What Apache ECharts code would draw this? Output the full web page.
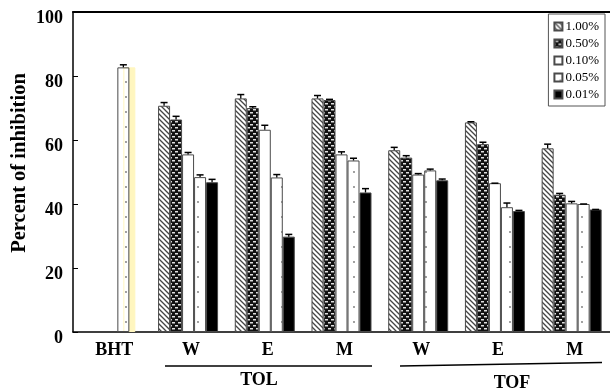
<!DOCTYPE html>
<html><head><meta charset="utf-8">
<script src="https://cdn.jsdelivr.net/npm/echarts@6/dist/echarts.min.js"></script>
<style>html,body{margin:0;padding:0;background:#fff}#c{width:610px;height:391px}</style>
</head><body><div id="c"></div>
<script>
var categories = ['BHT','TOL-W','TOL-E','TOL-M','TOF-W','TOF-E','TOF-M'];
var tickLabels = ['BHT','W','E','M','W','E','M'];
var seriesNames = ['1.00%','0.50%','0.10%','0.05%','0.01%'];
var s100 = [null, 70.7, 73.0, 73.0, 56.8, 65.5, 57.4];
var s050 = [null, 66.4, 70.0, 72.5, 54.5, 58.7, 42.9];
var s010 = [null, 55.5, 63.2, 55.5, 49.2, 46.5, 40.2];
var s005 = [82.7, 48.4, 48.3, 53.6, 50.5, 39.0, 40.0];
var s001 = [null, 46.8, 29.8, 43.6, 47.4, 37.8, 38.3];
var e100 = [null, 1.0, 1.2, 0.9, 0.9, 0.2, 1.3];
var e050 = [null, 1.0, 0.4, 0.2, 0.6, 0.6, 0.4];
var e010 = [null, 0.6, 1.4, 0.8, 0.3, 0.0, 0.6];
var e005 = [0.8, 0.7, 0.9, 0.7, 0.4, 1.3, 0.0];
var e001 = [null, 0.9, 0.7, 1.2, 0.4, 0.2, 0.0];
var yTicks = [0, 20, 40, 60, 80, 100];

var values = [s100, s050, s010, s005, s001];
var errors = [e100, e050, e010, e005, e001];

function mk(w, h, draw) {
  var c = document.createElement('canvas'); c.width = w; c.height = h;
  var g = c.getContext('2d'); draw(g, w, h); return c;
}
var hatch = mk(5, 5, function (g, w, h) {
  g.fillStyle = '#fff'; g.fillRect(0, 0, w, h);
  g.strokeStyle = '#444'; g.lineWidth = 1.3;
  g.beginPath();
  g.moveTo(-1, -1); g.lineTo(w + 1, h + 1);
  g.moveTo(-1, h - 1); g.lineTo(1, h + 1);
  g.moveTo(w - 1, -1); g.lineTo(w + 1, 1);
  g.stroke();
});
var checker = mk(6, 6, function (g, w, h) {
  g.fillStyle = '#111'; g.fillRect(0, 0, w, h);
  g.fillStyle = '#e0e0e0';
  g.fillRect(1, 1, 3, 1.5);
  g.fillRect(4, 4, 3, 1.5);
  g.fillRect(-2, 4, 3, 1.5);
});
var dots = mk(12, 15, function (g, w, h) {
  g.fillStyle = '#fff'; g.fillRect(0, 0, w, h);
  g.fillStyle = '#777';
  g.beginPath(); g.arc(6, 7, 0.9, 0, Math.PI * 2); g.fill();
});
var fills = [
  { image: hatch, repeat: 'repeat' },
  { image: checker, repeat: 'repeat' },
  '#ffffff',
  { image: dots, repeat: 'repeat' },
  '#000000'
];

var BW = 12;
var series = [];
seriesNames.forEach(function (name, i) {
  var data = values[i].map(function (v, k) {
    if (v == null) return null;
    if (k === 0) {
      return { value: v, itemStyle: { shadowColor: '#fff6bf', shadowOffsetX: 6, shadowOffsetY: 0, shadowBlur: 0 } };
    }
    return v;
  });
  series.push({
    name: name, type: 'bar', data: data, barWidth: BW, barGap: '0%',
    itemStyle: { color: fills[i], borderColor: '#4a4a4a', borderWidth: 1 },
    emphasis: { disabled: true }, z: 2
  });
});

var errData = [];
values.forEach(function (arr, i) {
  arr.forEach(function (v, k) {
    if (v != null) errData.push([k, v, errors[i][k], i]);
  });
});
series.push({
  type: 'custom', name: 'err', data: errData, z: 5, silent: true,
  renderItem: function (params, api) {
    var k = api.value(0), v = api.value(1), e = api.value(2), s = api.value(3);
    var p0 = api.coord([k, v]);
    var p1 = api.coord([k, v + e]);
    var x = p0[0] + (s - 2) * BW;
    return {
      type: 'group', children: [
        { type: 'line', shape: { x1: x, y1: p0[1], x2: x, y2: p1[1] }, style: { stroke: '#000', lineWidth: 1.3 } },
        { type: 'line', shape: { x1: x - 3.5, y1: p1[1], x2: x + 3.5, y2: p1[1] }, style: { stroke: '#000', lineWidth: 1.5 } }
      ]
    };
  }
});

var serif = '"Liberation Serif", "Times New Roman", serif';
var chart = echarts.init(document.getElementById('c'), null, { renderer: 'canvas' });
chart.setOption({
  animation: false,
  backgroundColor: '#fff',
  grid: { left: 73, right: 0, top: 12, bottom: 59, containLabel: false },
  legend: {
    data: seriesNames, orient: 'vertical', right: 5, top: 14,
    borderColor: '#555', borderWidth: 1, backgroundColor: '#fff',
    padding: [6, 6, 5, 5], itemWidth: 8, itemHeight: 8, itemGap: 4,
    icon: 'rect', selectedMode: false,
    textStyle: { fontFamily: serif, fontSize: 13, color: '#000', padding: [0, 0, 0, -2] }
  },
  xAxis: [{
    type: 'category', data: categories, boundaryGap: true,
    axisLine: { lineStyle: { color: '#000', width: 1.5 } },
    axisTick: { inside: true, length: 5, lineStyle: { color: '#000', width: 1 } },
    axisLabel: {
      margin: 9, fontFamily: serif, fontWeight: 'bold', fontSize: 18, color: '#000',
      padding: [0, 0, 0, 6],
      formatter: function (v, idx) { return tickLabels[idx]; }
    }
  }, {
    type: 'category', data: categories, position: 'top',
    axisLine: { lineStyle: { color: '#000', width: 2 } },
    axisTick: { show: false }, axisLabel: { show: false }
  }],
  yAxis: {
    type: 'value', min: yTicks[0], max: yTicks[yTicks.length - 1], interval: 20,
    axisLine: { show: true, lineStyle: { color: '#000', width: 1.5 } },
    axisTick: { show: true, inside: true, length: 5, lineStyle: { color: '#000', width: 1 } },
    splitLine: { show: false },
    axisLabel: { margin: 10, fontFamily: serif, fontWeight: 'bold', fontSize: 18, color: '#000',
      verticalAlign: 'top', lineHeight: 12 }
  },
  graphic: [
    { type: 'text', x: 20, y: 163, rotation: Math.PI / 2,
      style: { text: 'Percent of inhibition', font: 'bold 20.5px ' + serif, fill: '#000', align: 'center', verticalAlign: 'middle' } },
    { type: 'line', shape: { x1: 165, y1: 366, x2: 372, y2: 366 }, style: { stroke: '#000', lineWidth: 1.5 } },
    { type: 'line', shape: { x1: 400, y1: 366, x2: 602, y2: 362.5 }, style: { stroke: '#000', lineWidth: 1.5 } },
    { type: 'text', x: 259, y: 380, style: { text: 'TOL', font: 'bold 18px ' + serif, fill: '#000', align: 'center', verticalAlign: 'middle' } },
    { type: 'text', x: 512, y: 383, style: { text: 'TOF', font: 'bold 18px ' + serif, fill: '#000', align: 'center', verticalAlign: 'middle' } }
  ],
  series: series
});
</script></body></html>
